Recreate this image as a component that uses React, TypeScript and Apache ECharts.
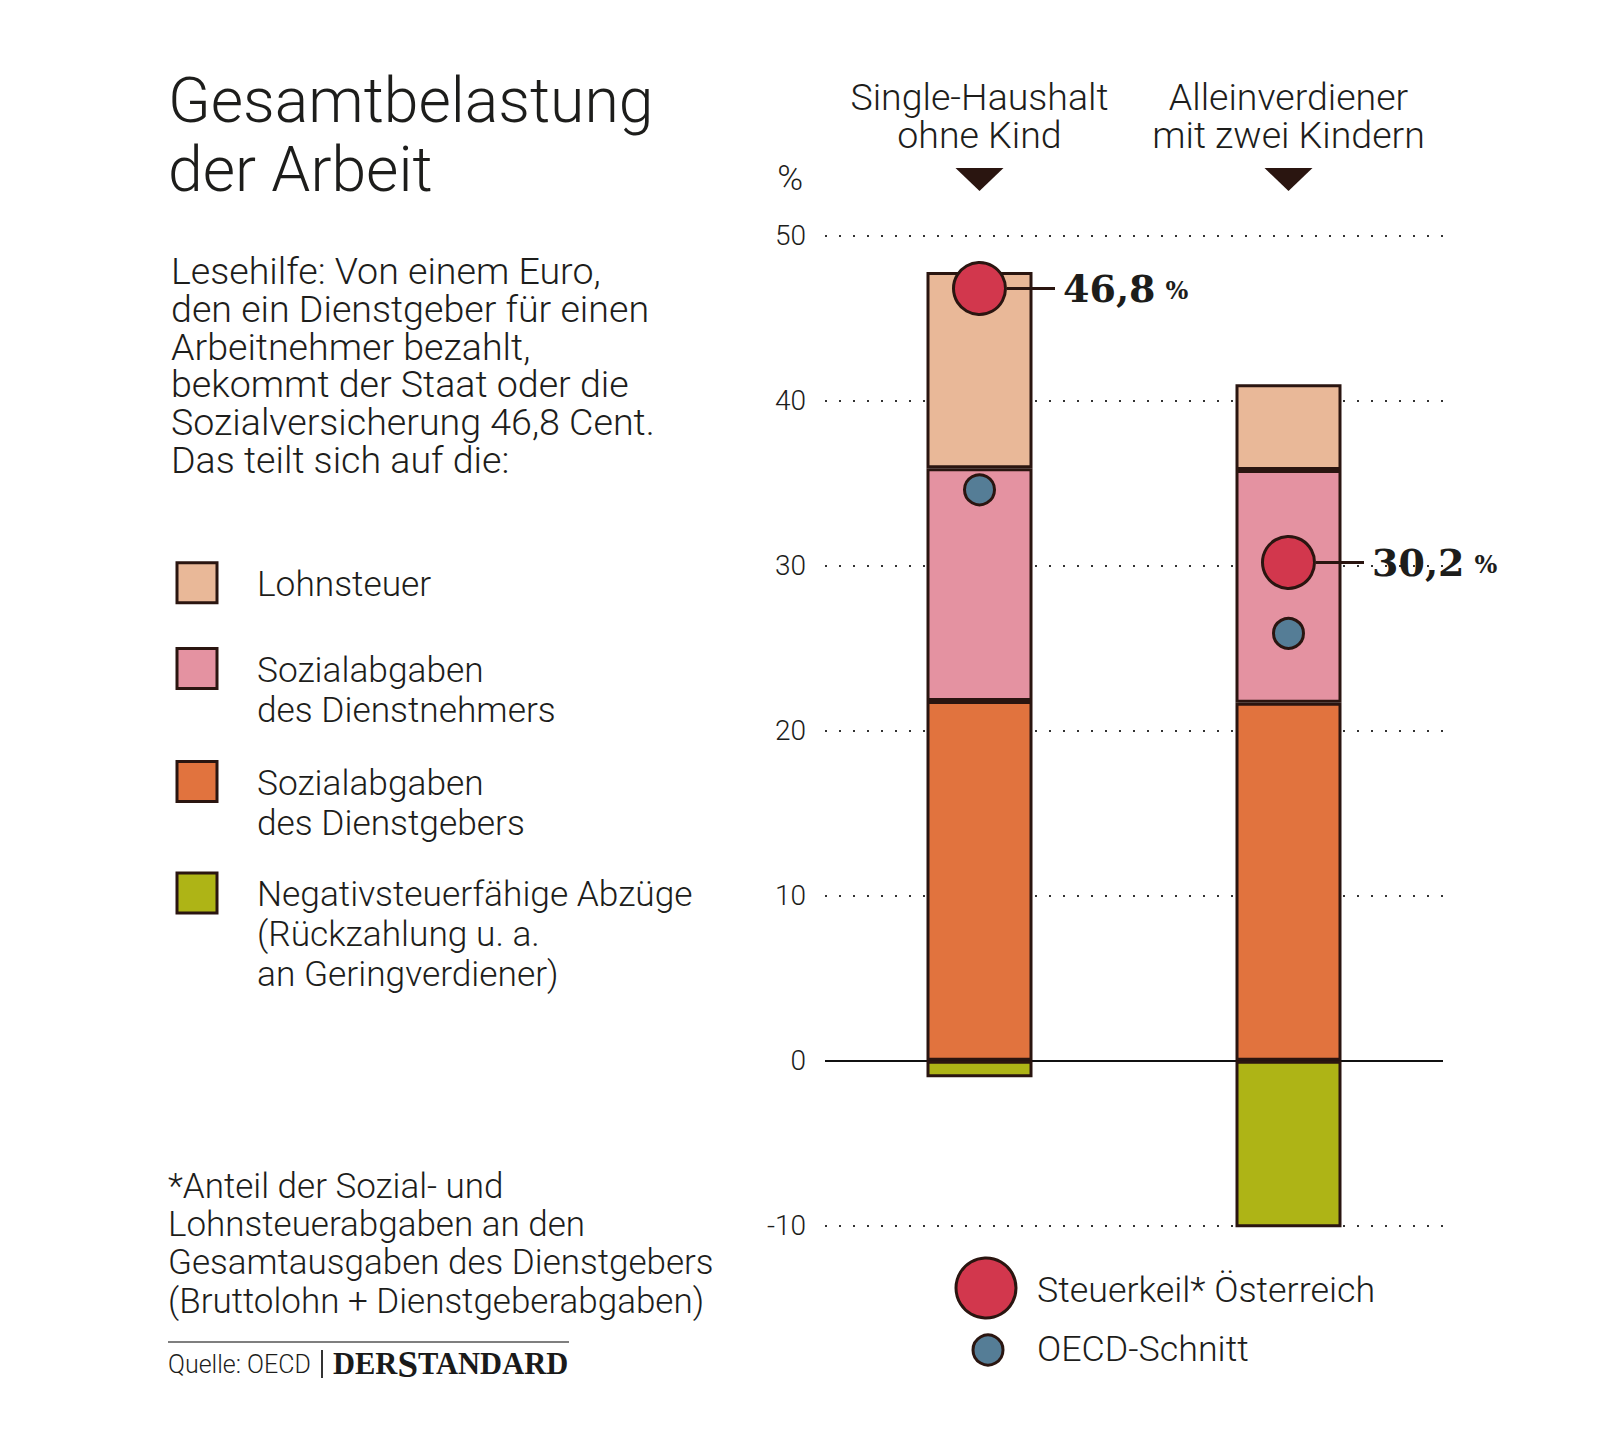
import React, { useEffect, useRef } from "react";
import * as echarts from "echarts";

// ---------- data ----------
const categories = ["Single-Haushalt\nohne Kind", "Alleinverdiener\nmit zwei Kindern"];
const employerSSC = [21.8, 21.7];
const employeeSSC = [14.1, 14.1];
const incomeTax = [11.9, 5.2];
const negativeTax = [-1.0, -10.7];
const taxWedgeAT = [46.8, 30.2];
const taxWedgeLabels = ["46,8", "30,2"];
const oecdAverage = [34.6, 25.9];
const yMin = -10;
const yMax = 50;
const yInterval = 10;

const legendNames = [
  "Lohnsteuer",
  "Sozialabgaben\ndes Dienstnehmers",
  "Sozialabgaben\ndes Dienstgebers",
  "Negativsteuerfähige Abzüge\n(Rückzahlung u. a.\nan Geringverdiener)",
];
const legendColors = ["#E9B898", "#E492A1", "#E1733E", "#AEB416"];
const titleLines = ["Gesamtbelastung", "der Arbeit"];
const introLines = [
  "Lesehilfe: Von einem Euro,",
  "den ein Dienstgeber für einen",
  "Arbeitnehmer bezahlt,",
  "bekommt der Staat oder die",
  "Sozialversicherung 46,8 Cent.",
  "Das teilt sich auf die:",
];
const footnoteLines = [
  "*Anteil der Sozial- und",
  "Lohnsteuerabgaben an den",
  "Gesamtausgaben des Dienstgebers",
  "(Bruttolohn + Dienstgeberabgaben)",
];
const dotLegend = ["Steuerkeil* Österreich", "OECD-Schnitt"];

// ---------- styles ----------
const DARK = "#2a1510";
const TEXT = "#1d1d1b";
const RED = "#D2374D";
const BLUE = "#557D96";
const SANS = "Roboto";

export default function App() {
  const ref = useRef<HTMLDivElement>(null);

  useEffect(() => {
    document.body.style.margin = "0";
    const el = ref.current!;
    const chart = echarts.init(el, null, { renderer: "svg" });

    const barCommon = {
      type: "bar",
      stack: "total",
      barWidth: 106,
      itemStyle: { borderColor: DARK, borderWidth: 3 },
      z: 2,
    };

    const option: any = {
      animation: false,
      backgroundColor: "#ffffff",
      grid: { left: 825, top: 235.7, width: 618, height: 990 },
      xAxis: {
        type: "category",
        position: "top",
        data: categories,
        axisLine: { show: false },
        axisTick: { show: false },
        splitLine: { show: false },
        axisLabel: {
          interval: 0,
          hideOverlap: false,
          margin: 82,
          fontSize: 37.5,
          lineHeight: 37.5,
          fontFamily: SANS,
          fontWeight: 300,
          color: TEXT,
          align: "center",
        },
      },
      yAxis: {
        type: "value",
        min: yMin,
        max: yMax,
        interval: yInterval,
        name: "%",
        nameLocation: "end",
        nameGap: 40,
        nameTextStyle: {
          fontSize: 35,
          fontFamily: SANS,
          fontWeight: 300,
          color: TEXT,
          align: "right",
          padding: [0, 22, 0, 0],
        },
        axisLine: { show: false },
        axisTick: { show: false },
        axisLabel: {
          margin: 19,
          fontSize: 28,
          fontFamily: SANS,
          fontWeight: 300,
          color: TEXT,
          padding: [10, 0, 0, 0],
        },
        splitLine: {
          show: true,
          lineStyle: { color: "#333", width: 2, type: [2, 12] },
        },
      },
      series: [
        {
          ...barCommon,
          name: "Sozialabgaben des Dienstgebers",
          data: employerSSC,
          itemStyle: { ...barCommon.itemStyle, color: legendColors[2] },
          markLine: {
            silent: true,
            symbol: "none",
            label: { show: false },
            lineStyle: { color: "#111", width: 2, type: "solid" },
            data: [{ yAxis: 0 }],
            z: 1,
          },
        },
        {
          ...barCommon,
          name: "Sozialabgaben des Dienstnehmers",
          data: employeeSSC,
          itemStyle: { ...barCommon.itemStyle, color: legendColors[1] },
        },
        {
          ...barCommon,
          name: "Lohnsteuer",
          data: incomeTax,
          itemStyle: { ...barCommon.itemStyle, color: legendColors[0] },
        },
        {
          ...barCommon,
          name: "Negativsteuerfähige Abzüge",
          data: negativeTax,
          itemStyle: { ...barCommon.itemStyle, color: legendColors[3] },
        },
        {
          type: "scatter",
          name: "OECD-Schnitt",
          data: oecdAverage,
          symbol: "circle",
          symbolSize: 30,
          itemStyle: { color: BLUE, borderColor: DARK, borderWidth: 3, opacity: 1 },
          z: 5,
        },
        {
          type: "scatter",
          name: "Steuerkeil* Österreich",
          data: taxWedgeAT,
          symbol: "circle",
          symbolSize: 52,
          itemStyle: { color: RED, borderColor: DARK, borderWidth: 3, opacity: 1 },
          z: 6,
          label: {
            show: true,
            position: "right",
            distance: 0,
            formatter: (p: any) => `{line|}{val|${taxWedgeLabels[p.dataIndex]}}{pct|%}`,
            rich: {
              line: { width: 48, height: 3, backgroundColor: DARK },
              val: {
                fontFamily: "DejaVu Serif",
                fontWeight: "bold",
                fontSize: 38,
                color: TEXT,
                padding: [0, 0, 0, 8],
              },
              pct: {
                fontFamily: "DejaVu Serif",
                fontWeight: "bold",
                fontSize: 24,
                color: TEXT,
                padding: [4, 0, 0, 10],
              },
            },
          },
        },
      ],
    };

    chart.setOption(option);

    const text = (t: string, x: number, y: number, size: number, lh?: number) => ({
      type: "text",
      x,
      y,
      silent: true,
      style: {
        text: t,
        fill: TEXT,
        font: `300 ${size}px ${SANS}`,
        verticalAlign: "middle",
        align: "left",
        ...(lh ? { lineHeight: lh } : {}),
      },
    });

    const g: any[] = [];
    // title
    titleLines.forEach((t, i) => g.push(text(t, 168, 100.5 + i * 69, 62.5, 66)));
    // intro
    introLines.forEach((t, i) => g.push(text(t, 171, 271 + i * 37.8, 37.6, 36)));
    // legend
    const squareY = [582.7, 668.4, 781.6, 892.9];
    legendNames.forEach((name, i) => {
      g.push({
        type: "rect",
        silent: true,
        shape: { x: 177, y: squareY[i] - 20, width: 40, height: 40 },
        style: { fill: legendColors[i], stroke: DARK, lineWidth: 3 },
      });
      name.split("\n").forEach((ln, j) => {
        g.push(text(ln, 257, squareY[i] + 1.5 + j * 39.7, 35.3, 38));
      });
    });
    // footnote
    footnoteLines.forEach((t, i) => g.push(text(t, 168, 1186.7 + i * 38.1, 35, 36.5)));
    g.push({
      type: "line",
      silent: true,
      shape: { x1: 168, y1: 1342, x2: 569, y2: 1342 },
      style: { stroke: "#555", lineWidth: 1.5 },
    });
    g.push(text("Quelle: OECD", 168, 1364, 25));
    g.push({
      type: "line",
      silent: true,
      shape: { x1: 322, y1: 1350, x2: 322, y2: 1378 },
      style: { stroke: "#333", lineWidth: 2 },
    });
    g.push({
      type: "text",
      x: 333,
      y: 1364,
      silent: true,
      style: {
        text: "{a|DER}{b|S}{a|TANDARD}",
        verticalAlign: "middle",
        align: "left",
        rich: {
          a: { fontFamily: "Liberation Serif", fontWeight: "bold", fontSize: 30.5, fill: "#1a1a1a", color: "#1a1a1a" },
          b: { fontFamily: "Liberation Serif", fontWeight: "bold", fontSize: 37, fill: "#1a1a1a", color: "#1a1a1a" },
        },
      },
    });
    // dot legend
    g.push({
      type: "circle",
      silent: true,
      shape: { cx: 986, cy: 1288, r: 30 },
      style: { fill: RED, stroke: DARK, lineWidth: 3 },
    });
    g.push(text(dotLegend[0], 1037, 1290, 35.8));
    g.push({
      type: "circle",
      silent: true,
      shape: { cx: 988, cy: 1350, r: 15 },
      style: { fill: BLUE, stroke: DARK, lineWidth: 3 },
    });
    g.push(text(dotLegend[1], 1037, 1349, 35.8));
    // triangles pointing at each column
    categories.forEach((_, i) => {
      const [cx] = chart.convertToPixel({ gridIndex: 0 }, [i, 0]) as number[];
      g.push({
        type: "polygon",
        silent: true,
        shape: { points: [[cx - 24, 168], [cx + 24, 168], [cx, 191]] },
        style: { fill: DARK, lineJoin: "round" },
      });
    });

    chart.setOption({ graphic: g });

    return () => chart.dispose();
  }, []);

  return <div ref={ref} style={{ width: 1600, height: 1429 }} />;
}
